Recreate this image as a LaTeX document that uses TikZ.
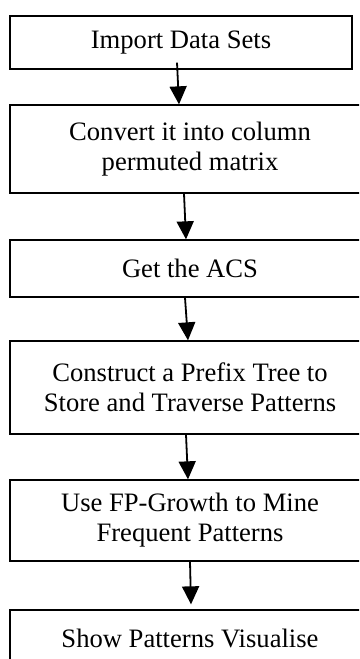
\documentclass[tikz,border=0pt]{standalone}
\usepackage{fontspec}
\setmainfont{Liberation Serif}
\usetikzlibrary{arrows.meta}
\tikzset{
  stepbox/.style={draw=black, line width=1.3bp, inner sep=0pt, align=center,
    font=\fontsize{26.6bp}{30bp}\selectfont},
  flow/.style={line width=1.8bp, -{Triangle[length=18bp,width=17bp]}}
}
\begin{document}
\begin{tikzpicture}[x=1bp, y=-1bp]
  \clip (0,0) rectangle (359,659);
  \fill[white] (0,0) rectangle (359,659);

  \node[stepbox, minimum width=342bp, minimum height=53bp] (b1) at (181,42.5) {Import Data Sets};
  \node[stepbox, minimum width=360bp, minimum height=88bp] (b2) at (190,149) {Convert it into column\\permuted matrix};
  \node[stepbox, minimum width=360bp, minimum height=57bp] (b3) at (190,268.5) {Get the ACS};
  \node[stepbox, minimum width=360bp, minimum height=93bp] (b4) at (190,387.5) {Construct a Prefix Tree to\\Store and Traverse Patterns};
  \node[stepbox, minimum width=360bp, minimum height=81bp] (b5) at (190,520.5) {Use FP-Growth to Mine\\Frequent Patterns};
  \node[stepbox, minimum width=360bp, minimum height=57bp] (b6) at (190,638.5) {Show Patterns Visualise};

  \draw[flow] ([shift={(-4bp,7bp)}]b1.south) -- ([shift={(-11bp,0bp)}]b2.north);
  \draw[flow] ([shift={(-6bp,0bp)}]b2.south) -- ([shift={(-4bp,0bp)}]b3.north);
  \draw[flow] ([shift={(-5bp,0bp)}]b3.south) -- ([shift={(-2bp,0bp)}]b4.north);
  \draw[flow] ([shift={(-4bp,0bp)}]b4.south) -- ([shift={(-2bp,0bp)}]b5.north);
  \draw[flow] (b5.south) -- ([shift={(1bp,5bp)}]b6.north);
\end{tikzpicture}
\end{document}
